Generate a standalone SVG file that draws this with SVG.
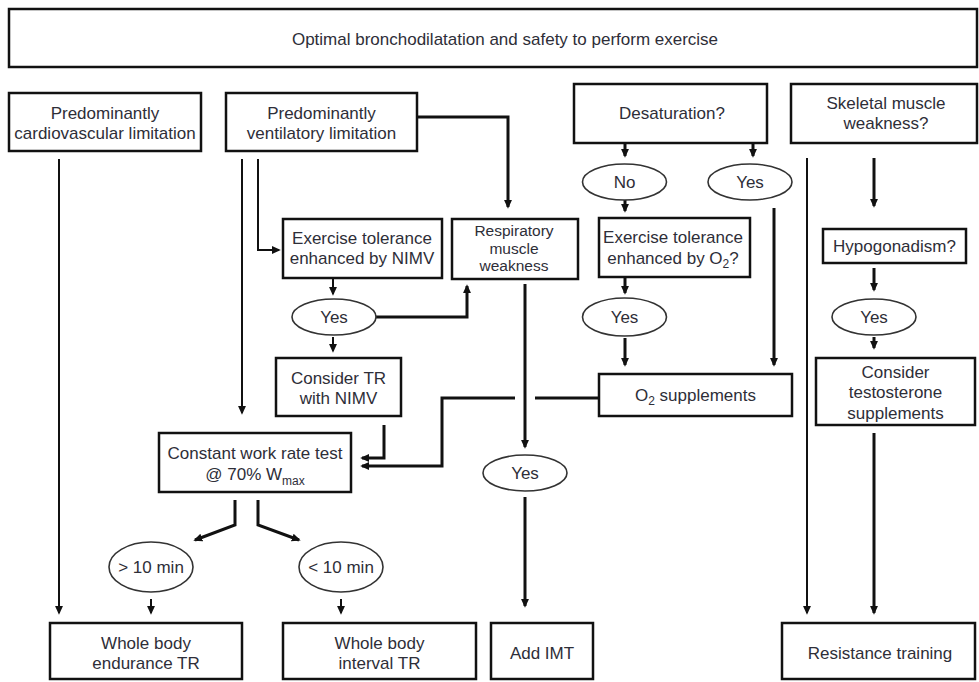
<svg xmlns="http://www.w3.org/2000/svg" width="979" height="682" viewBox="0 0 979 682">
<style>
.box{fill:#fff;stroke:#111;stroke-width:2.5}
.ell{fill:#fff;stroke:#333;stroke-width:1.6}
text{font-family:"Liberation Sans",Arial,sans-serif;font-size:17px;fill:#2e2e38;text-anchor:middle}
.sub{font-size:12px}
.tight{font-size:15.5px}
.thin{fill:none;stroke:#111;stroke-width:2;marker-end:url(#ah)}
.thick{fill:none;stroke:#111;stroke-width:3;marker-end:url(#ah)}
.plain{fill:none;stroke:#111;stroke-width:3}
</style>
<defs>
<marker id="ah" viewBox="0 0 10 10" refX="8" refY="5" markerWidth="9" markerHeight="9" markerUnits="userSpaceOnUse" orient="auto">
<path d="M0,0.5 L10,5 L0,9.5 z" fill="#111"/>
</marker>
</defs>
<rect width="979" height="682" fill="#fff"/>

<g id="connectors">
<path class="thin" d="M59,159 V613"/>
<path class="thin" d="M242,159 V413"/>
<path class="thin" d="M258,159 V250 H279"/>
<path class="thick" d="M417,117 H508 V207"/>
<path class="thin" d="M333,278 V294"/>
<path class="thick" d="M376,317 H467 V286"/>
<path class="thin" d="M333,337 V351"/>
<path class="thick" d="M384,425 V458 H362"/>
<path class="plain" d="M599,398 H535"/>
<path class="thick" d="M515,398 H442 V466 H362"/>
<path class="thick" d="M525,284 V447"/>
<path class="thick" d="M525,497 V606"/>
<path class="thick" d="M625,143 V156"/>
<path class="thick" d="M753,143 V156"/>
<path class="thick" d="M625,200 V211"/>
<path class="thick" d="M774,208 V365"/>
<path class="thick" d="M625,277 V293"/>
<path class="thick" d="M625,338 V365"/>
<path class="thin" d="M807,158 V613"/>
<path class="thick" d="M874,158 V206"/>
<path class="thick" d="M874,268 V290"/>
<path class="thick" d="M874,337 V348"/>
<path class="thick" d="M874,433 V613"/>
<path class="thick" d="M235,500 V525 L195,540"/>
<path class="thick" d="M258,500 V525 L299,540"/>
<path class="thin" d="M151,599 V613"/>
<path class="thin" d="M341,599 V613"/>
</g>

<g id="top"><rect class="box" x="9" y="9" width="968" height="58"/><text x="505" y="45">Optimal bronchodilatation and safety to perform exercise</text></g>
<g id="cardio"><rect class="box" x="9" y="93" width="192" height="58"/><text x="105" y="119">Predominantly</text><text x="105" y="139">cardiovascular limitation</text></g>
<g id="vent"><rect class="box" x="226" y="93" width="191" height="58"/><text x="321.5" y="119">Predominantly</text><text x="321.5" y="139">ventilatory limitation</text></g>
<g id="desat"><rect class="box" x="574" y="84" width="193" height="59"/><text x="672" y="119">Desaturation?</text></g>
<g id="skeletal"><rect class="box" x="791" y="84" width="186" height="59"/><text x="886" y="109">Skeletal muscle</text><text x="886" y="129">weakness?</text></g>
<g id="no"><ellipse class="ell" cx="624.5" cy="182" rx="42" ry="18"/><text x="624.5" y="188">No</text></g>
<g id="yes-desat"><ellipse class="ell" cx="750" cy="182" rx="42" ry="18"/><text x="750" y="188">Yes</text></g>
<g id="nimv"><rect class="box" x="283" y="219" width="159" height="59"/><text x="362" y="244">Exercise tolerance</text><text x="362" y="264">enhanced by NIMV</text></g>
<g id="resp"><rect class="box" x="452" y="219" width="126" height="60"/><text class="tight" x="514" y="236">Respiratory</text><text class="tight" x="514" y="253.5">muscle</text><text class="tight" x="514" y="271">weakness</text></g>
<g id="exo2"><rect class="box" x="599" y="218" width="151" height="59"/><text x="673" y="243">Exercise tolerance</text><text x="673" y="264">enhanced by O<tspan class="sub" dy="4">2</tspan><tspan dy="-4">?</tspan></text></g>
<g id="hypo"><rect class="box" x="823" y="229" width="143" height="34"/><text x="894.5" y="252">Hypogonadism?</text></g>
<g id="yes-nimv"><ellipse class="ell" cx="334" cy="317" rx="42" ry="18"/><text x="334" y="323">Yes</text></g>
<g id="yes-o2"><ellipse class="ell" cx="624.5" cy="317" rx="42" ry="19"/><text x="624.5" y="323">Yes</text></g>
<g id="yes-hypo"><ellipse class="ell" cx="874" cy="317" rx="42" ry="18"/><text x="874" y="323">Yes</text></g>
<g id="consider-tr"><rect class="box" x="276" y="358" width="125" height="58"/><text x="338.5" y="384">Consider TR</text><text x="338.5" y="404">with NIMV</text></g>
<g id="o2supp"><rect class="box" x="599" y="374" width="193" height="42"/><text x="695.5" y="401">O<tspan class="sub" dy="4">2</tspan><tspan dy="-4"> supplements</tspan></text></g>
<g id="testosterone"><rect class="box" x="816" y="358" width="159" height="67"/><text x="895.5" y="378">Consider</text><text x="895.5" y="398">testosterone</text><text x="895.5" y="419">supplements</text></g>
<g id="constant"><rect class="box" x="159" y="433" width="192" height="59"/><text x="255" y="459">Constant work rate test</text><text x="255" y="480">@ 70% W<tspan class="sub" dy="5">max</tspan></text></g>
<g id="yes-resp"><ellipse class="ell" cx="525" cy="473" rx="42" ry="18"/><text x="525" y="479">Yes</text></g>
<g id="gt10"><ellipse class="ell" cx="151" cy="567" rx="42" ry="25"/><text x="151" y="573">&gt; 10 min</text></g>
<g id="lt10"><ellipse class="ell" cx="341" cy="567" rx="42" ry="25"/><text x="341" y="573">&lt; 10 min</text></g>
<g id="endurance"><rect class="box" x="50" y="623" width="192" height="56"/><text x="146" y="649">Whole body</text><text x="146" y="669">endurance TR</text></g>
<g id="interval"><rect class="box" x="283" y="623" width="193" height="56"/><text x="379.5" y="649">Whole body</text><text x="379.5" y="669">interval TR</text></g>
<g id="imt"><rect class="box" x="491" y="623" width="102" height="56"/><text x="542" y="659">Add IMT</text></g>
<g id="resistance"><rect class="box" x="782" y="623" width="193" height="56"/><text x="880" y="659">Resistance training</text></g>
</svg>
